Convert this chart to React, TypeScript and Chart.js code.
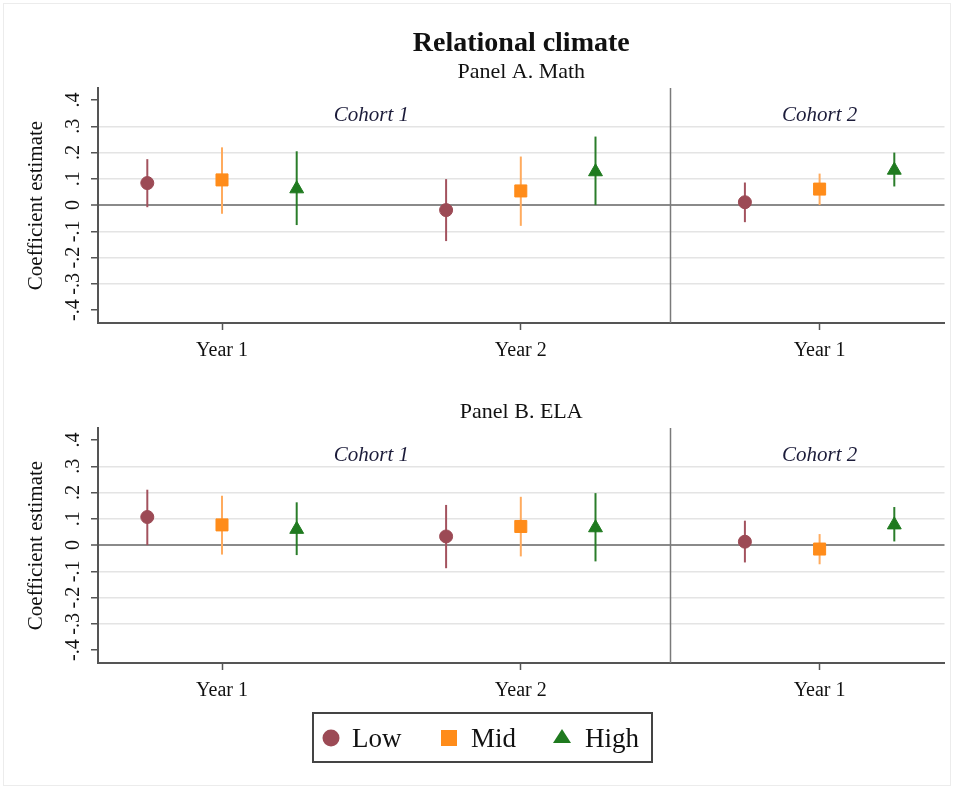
import React, { useEffect, useRef } from 'react';
import { Chart, registerables } from 'chart.js';

Chart.register(...registerables);

const SERIF = '"Liberation Serif", "Times New Roman", Times, serif';

const seriesNames = ['Low', 'Mid', 'High'];
const groupPositions = [1, 2, 3];
const xTickLabels = ['Year 1', 'Year 2', 'Year 1'];
const seriesOffsets = [-0.25, 0, 0.25];
const yTickValues = [-0.4, -0.3, -0.2, -0.1, 0, 0.1, 0.2, 0.3, 0.4];
const yTickLabels = ['-.4', '-.3', '-.2', '-.1', '0', '.1', '.2', '.3', '.4'];
const cohortLabels = ['Cohort 1', 'Cohort 2'];
const cohortPositions = [1.5, 3];
const cohortDivider = 2.5;

// Panel A. Math
const mathLow = [0.084, -0.019, 0.011];
const mathLowLo = [-0.008, -0.137, -0.065];
const mathLowHi = [0.175, 0.099, 0.086];
const mathMid = [0.096, 0.054, 0.061];
const mathMidLo = [-0.033, -0.079, 0.0];
const mathMidHi = [0.22, 0.185, 0.12];
const mathHigh = [0.062, 0.127, 0.133];
const mathHighLo = [-0.076, 0.0, 0.071];
const mathHighHi = [0.205, 0.261, 0.2];

// Panel B. ELA
const elaLow = [0.107, 0.033, 0.013];
const elaLowLo = [0.0, -0.088, -0.066];
const elaLowHi = [0.211, 0.153, 0.093];
const elaMid = [0.077, 0.071, -0.015];
const elaMidLo = [-0.036, -0.043, -0.073];
const elaMidHi = [0.188, 0.184, 0.042];
const elaHigh = [0.06, 0.066, 0.077];
const elaHighLo = [-0.038, -0.062, 0.014];
const elaHighHi = [0.163, 0.198, 0.145];

const markerColors = ['#9c4a55', '#ff8c1a', '#1f7a1f'];
const ciColors = ['#a3525e', '#ffab5e', '#2a7d2a'];
const pointStyles = ['circle', 'rect', 'triangle'];
const pointRadii = [6.5, 8.5, 8];

function buildDatasets(values: number[][], los: number[][], his: number[][]) {
  return seriesNames.map((name, s) => ({
    label: name,
    data: values[s].map((v, i) => ({ x: groupPositions[i] + seriesOffsets[s], y: v })),
    ciLow: los[s],
    ciHigh: his[s],
    ciColor: ciColors[s],
    pointStyle: pointStyles[s],
    pointRadius: pointRadii[s],
    backgroundColor: markerColors[s],
    borderColor: markerColors[s],
    borderWidth: 1,
  }));
}

const overlayPlugin = {
  id: 'overlay',
  beforeDatasetsDraw(chart: any, _args: any, opts: any) {
    const { ctx, chartArea, scales } = chart;
    const xs = scales.x;
    const ys = scales.y;
    ctx.save();
    const dx = Math.round(xs.getPixelForValue(cohortDivider)) + 0.5;
    ctx.strokeStyle = '#7a7a7a';
    ctx.lineWidth = 1.5;
    ctx.beginPath();
    ctx.moveTo(dx, chartArea.top);
    ctx.lineTo(dx, chartArea.bottom);
    ctx.stroke();

    chart.data.datasets.forEach((ds: any) => {
      ctx.strokeStyle = ds.ciColor;
      ctx.lineWidth = 2;
      ds.data.forEach((pt: any, i: number) => {
        const x = xs.getPixelForValue(pt.x);
        ctx.beginPath();
        ctx.moveTo(x, ys.getPixelForValue(ds.ciLow[i]));
        ctx.lineTo(x, ys.getPixelForValue(ds.ciHigh[i]));
        ctx.stroke();
      });
    });

    ctx.font = `italic 21px ${SERIF}`;
    ctx.fillStyle = '#1c1c3a';
    ctx.textAlign = 'center';
    ctx.textBaseline = 'alphabetic';
    cohortLabels.forEach((t, i) => {
      ctx.fillText(t, xs.getPixelForValue(cohortPositions[i]), chartArea.top + 33);
    });
    ctx.restore();
  },
  afterDraw(chart: any, _args: any, opts: any) {
    const { ctx, chartArea, scales } = chart;
    const ys = scales.y;
    ctx.save();
    ctx.fillStyle = '#111';
    ctx.font = `20px ${SERIF}`;
    ctx.textAlign = 'center';
    ctx.textBaseline = 'middle';
    yTickValues.forEach((v, i) => {
      ctx.save();
      ctx.translate(74, ys.getPixelForValue(v));
      ctx.rotate(-Math.PI / 2);
      ctx.fillText(yTickLabels[i], 0, 0);
      ctx.restore();
    });
    ctx.save();
    ctx.font = `21px ${SERIF}`;
    ctx.translate(36, (chartArea.top + chartArea.bottom) / 2);
    ctx.rotate(-Math.PI / 2);
    ctx.fillText('Coefficient estimate', 0, 0);
    ctx.restore();

    const cx = (chartArea.left + chartArea.right) / 2;
    ctx.textBaseline = 'alphabetic';
    if (opts.panelTitle) {
      ctx.font = `22px ${SERIF}`;
      ctx.fillText(opts.panelTitle, cx, chartArea.top - 10);
    }
    if (opts.mainTitle) {
      ctx.font = `bold 28px ${SERIF}`;
      ctx.fillText(opts.mainTitle, cx, 51);
    }
    if (opts.legendTop != null) {
      const t = opts.legendTop;
      ctx.strokeStyle = '#444';
      ctx.lineWidth = 2;
      ctx.strokeRect(313, t, 339, 49);
      const my = t + 25;
      ctx.fillStyle = markerColors[0];
      ctx.beginPath();
      ctx.arc(331, my, 8.5, 0, Math.PI * 2);
      ctx.fill();
      ctx.fillStyle = markerColors[1];
      ctx.fillRect(441, my - 8, 16, 16);
      ctx.fillStyle = markerColors[2];
      ctx.beginPath();
      ctx.moveTo(562, my - 9);
      ctx.lineTo(571, my + 5);
      ctx.lineTo(553, my + 5);
      ctx.closePath();
      ctx.fill();
      ctx.fillStyle = '#111';
      ctx.font = `27px ${SERIF}`;
      ctx.textAlign = 'left';
      ctx.fillText(seriesNames[0], 352, t + 34);
      ctx.fillText(seriesNames[1], 471, t + 34);
      ctx.fillText(seriesNames[2], 585, t + 34);
    }
    ctx.restore();
  },
};

function PanelChart(props: {
  top: number;
  height: number;
  padTop: number;
  padBottom: number;
  datasets: any[];
  panelTitle: string;
  mainTitle?: string;
  legendTop?: number;
}) {
  const ref = useRef<HTMLCanvasElement>(null);
  useEffect(() => {
    if (!ref.current) return;
    const chart = new Chart(ref.current, {
      type: 'scatter',
      data: { datasets: props.datasets },
      plugins: [overlayPlugin],
      options: {
        animation: false,
        responsive: false,
        events: [],
        layout: { padding: { top: props.padTop, left: 0, right: 9, bottom: props.padBottom } },
        plugins: {
          legend: { display: false },
          tooltip: { enabled: false },
          overlay: {
            panelTitle: props.panelTitle,
            mainTitle: props.mainTitle,
            legendTop: props.legendTop,
          },
        } as any,
        scales: {
          x: {
            type: 'linear',
            min: 0.585,
            max: 3.418,
            afterBuildTicks: (s: any) => {
              s.ticks = groupPositions.map((v) => ({ value: v }));
            },
            afterFit: (s: any) => {
              s.height = 42;
            },
            ticks: {
              callback: (v: any) => {
                const i = groupPositions.indexOf(Number(v));
                return i >= 0 ? xTickLabels[i] : '';
              },
              font: { family: SERIF, size: 20 },
              color: '#111',
              padding: 9,
              maxRotation: 0,
              autoSkip: false,
            },
            grid: { drawOnChartArea: false, drawTicks: true, tickLength: 7, tickColor: '#555', tickWidth: 1.5 },
            border: { color: '#555', width: 2 },
          },
          y: {
            type: 'linear',
            min: -0.449,
            max: 0.446,
            afterBuildTicks: (s: any) => {
              s.ticks = yTickValues.map((v) => ({ value: v }));
            },
            afterFit: (s: any) => {
              s.width = 98;
            },
            ticks: { display: false },
            grid: {
              drawTicks: true,
              tickLength: 7,
              tickColor: '#555',
              tickWidth: 1.5,
              color: (c: any) => {
                const v = c.tick ? c.tick.value : 1;
                if (Math.abs(v) < 1e-9) return '#8a8a8a';
                if (Math.abs(v) > 0.35) return 'rgba(0,0,0,0)';
                return '#e4e4e4';
              },
              lineWidth: (c: any) => {
                const v = c.tick ? c.tick.value : 1;
                return Math.abs(v) < 1e-9 ? 2 : 1.5;
              },
            },
            border: { color: '#555', width: 2 },
          },
        },
      } as any,
    });
    return () => chart.destroy();
  }, []);
  return (
    <canvas
      ref={ref}
      width={954}
      height={props.height}
      style={{ position: 'absolute', left: 0, top: props.top, width: 954, height: props.height }}
    />
  );
}

export default function App() {
  const mathSets = buildDatasets(
    [mathLow, mathMid, mathHigh],
    [mathLowLo, mathMidLo, mathHighLo],
    [mathLowHi, mathMidHi, mathHighHi]
  );
  const elaSets = buildDatasets(
    [elaLow, elaMid, elaHigh],
    [elaLowLo, elaMidLo, elaHighLo],
    [elaLowHi, elaMidHi, elaHighHi]
  );
  return (
    <div
      style={{
        position: 'fixed',
        left: 0,
        top: 0,
        width: 954,
        height: 789,
        background: '#fff',
        overflow: 'hidden',
      }}
    >
      <div
        style={{
          position: 'absolute',
          left: 3,
          top: 3,
          width: 946,
          height: 781,
          border: '1px solid #ececec',
        }}
      />
      <PanelChart
        top={0}
        height={365}
        padTop={88}
        padBottom={0}
        datasets={mathSets}
        panelTitle="Panel A. Math"
        mainTitle="Relational climate"
      />
      <PanelChart
        top={365}
        height={424}
        padTop={63}
        padBottom={84}
        datasets={elaSets}
        panelTitle="Panel B. ELA"
        legendTop={348}
      />
    </div>
  );
}
